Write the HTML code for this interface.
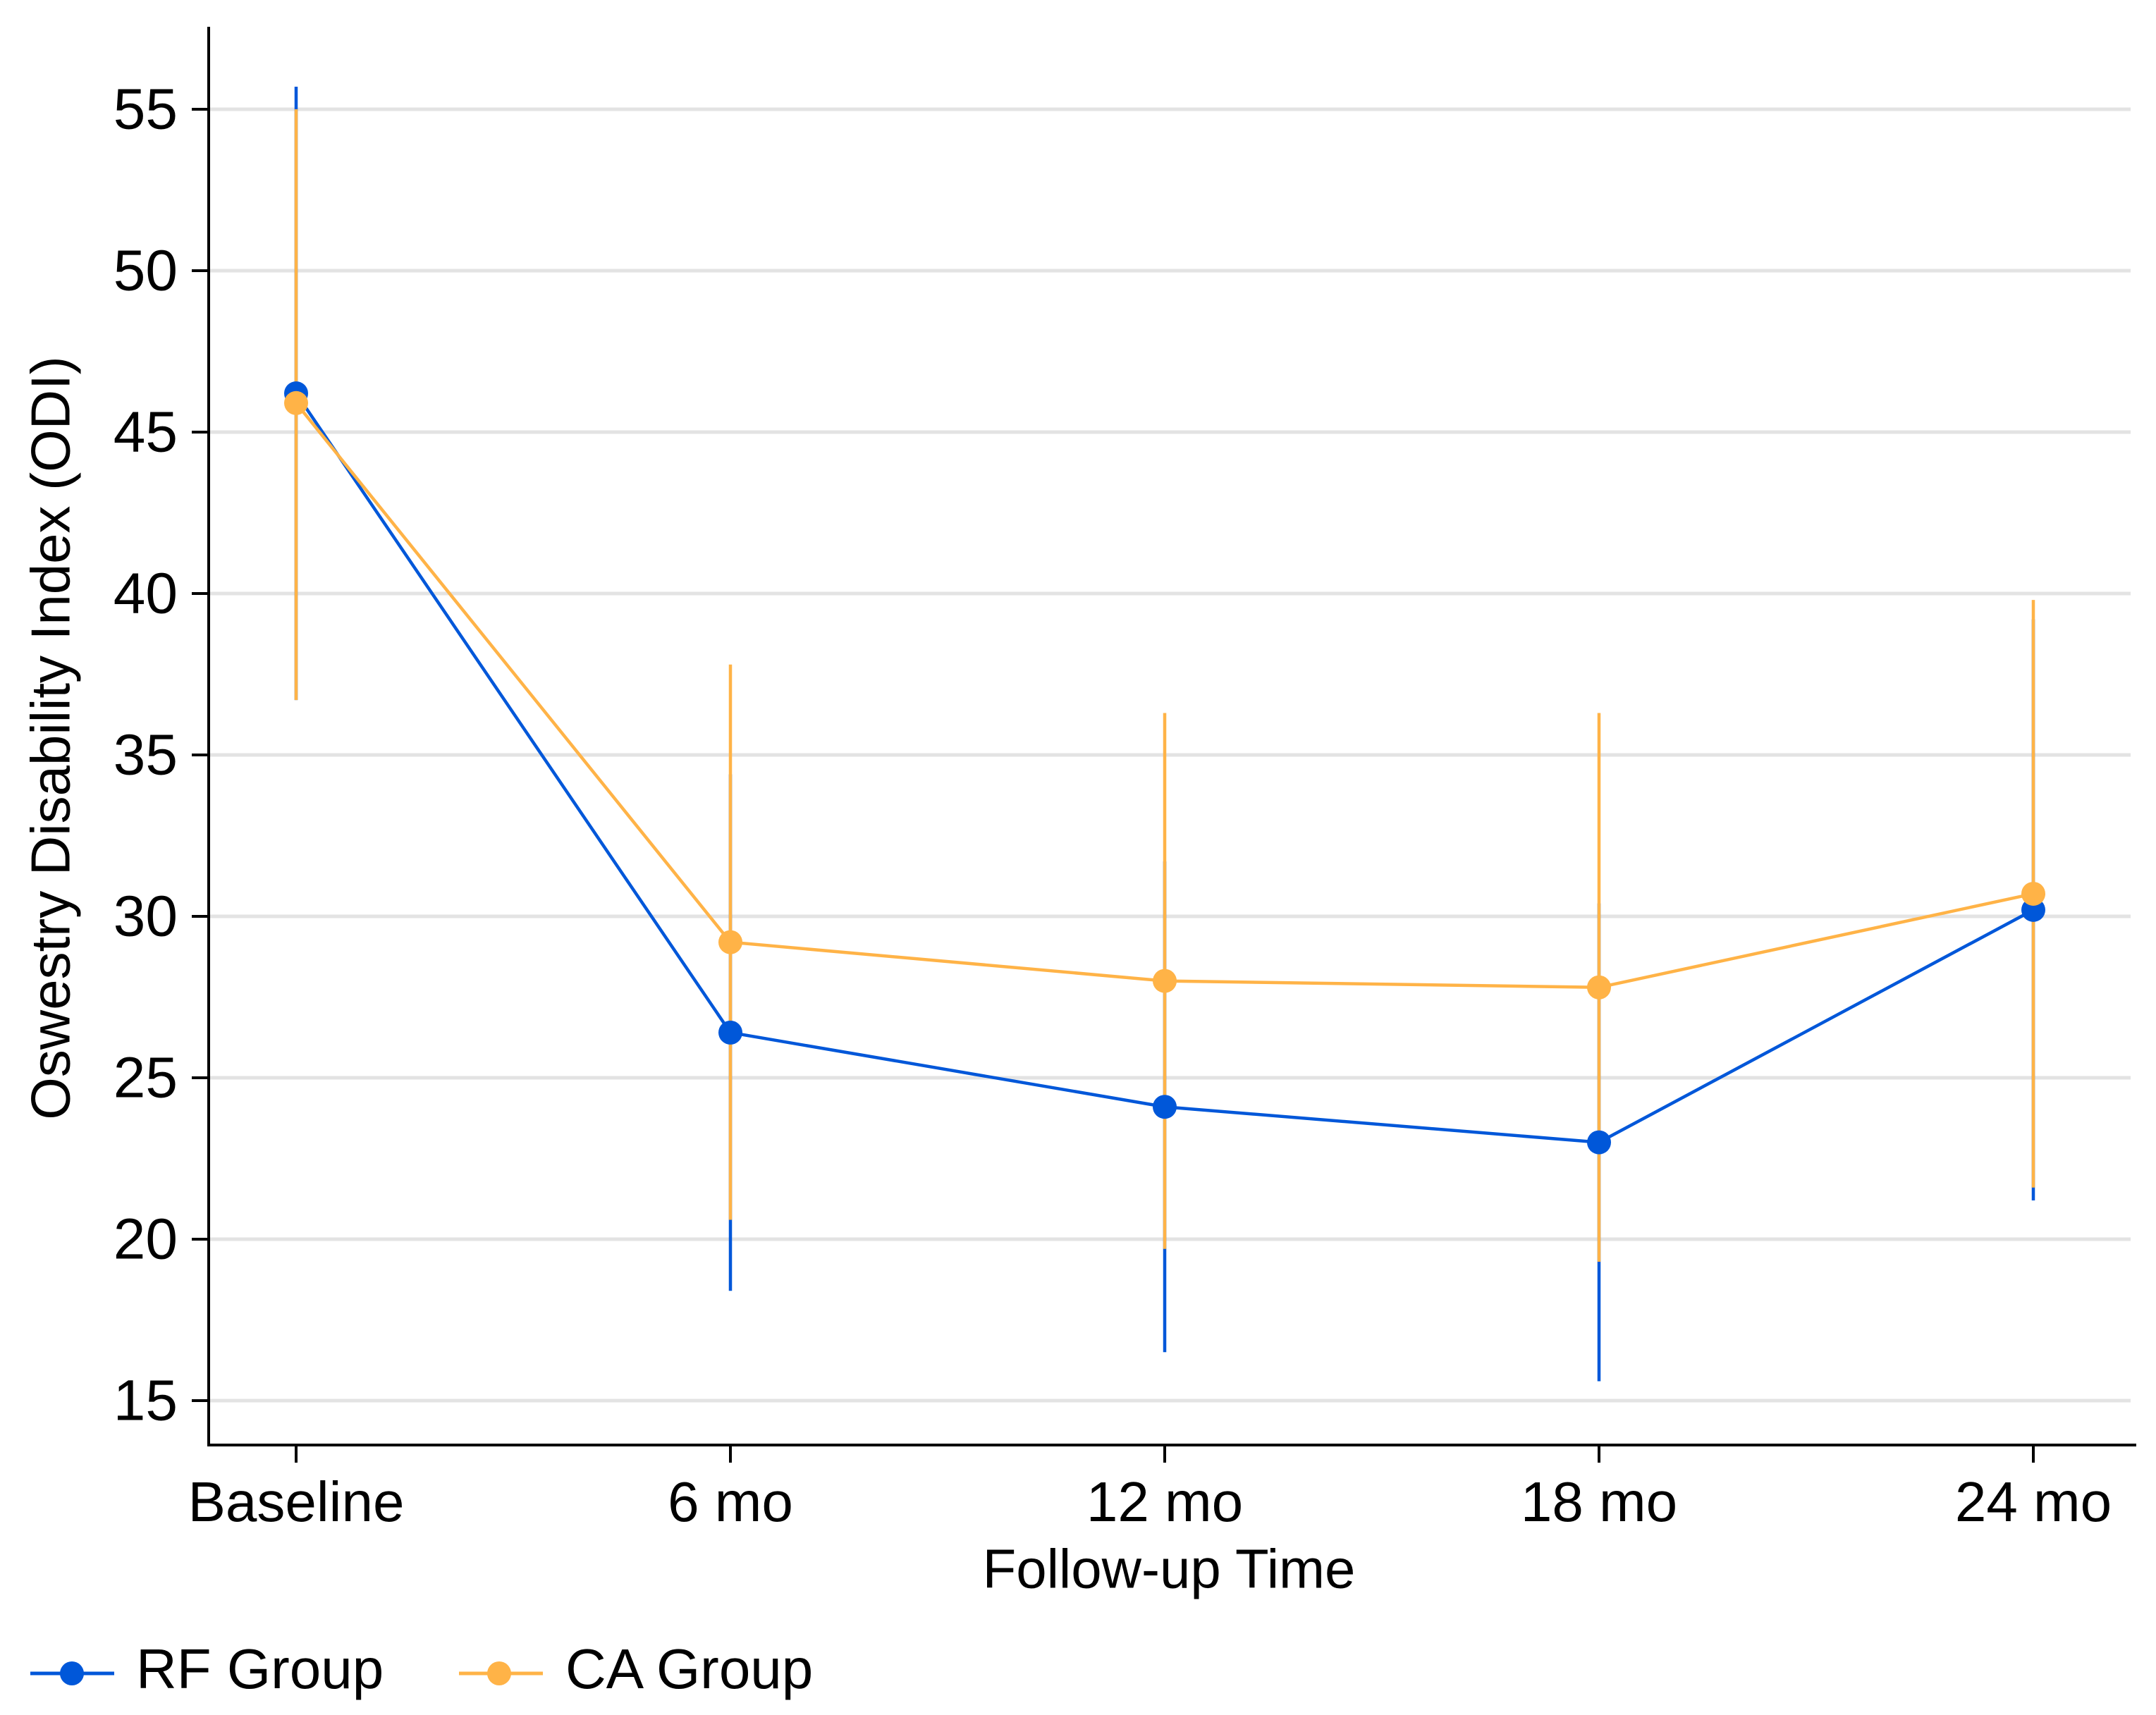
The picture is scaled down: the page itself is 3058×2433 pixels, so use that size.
<!DOCTYPE html>
<html><head><meta charset="utf-8"><style>
html,body{margin:0;padding:0;background:#fff;}
svg{display:block;font-family:"Liberation Sans",sans-serif;}
</style></head><body>
<svg id="chart" width="3058" height="2433" viewBox="0 0 3058 2433" xmlns="http://www.w3.org/2000/svg">
<g id="grid"></g>
<g id="yaxis"></g>
<g id="xaxis"></g>
<g id="errs"></g>
<g id="series"></g>
<text x="78" y="1047" font-size="78" text-anchor="middle" dominant-baseline="middle" transform="rotate(-90 78 1047)">Oswestry Disability Index (ODI)</text>
<text x="1658" y="2232" font-size="78" text-anchor="middle" dominant-baseline="middle">Follow-up Time</text>
<g>
 <g>
  <line x1="43" y1="2374" x2="162" y2="2374" stroke="#0057d9" stroke-width="5"/>
  <circle cx="102" cy="2374" r="17" fill="#0057d9"/>
  <text x="193" y="2374" font-size="80" dominant-baseline="middle">RF Group</text>
 </g>
 <g>
  <line x1="651" y1="2374" x2="770" y2="2374" stroke="#ffb347" stroke-width="5"/>
  <circle cx="708" cy="2374" r="17" fill="#ffb347"/>
  <text x="802" y="2374" font-size="80" dominant-baseline="middle">CA Group</text>
 </g>
</g>
</svg>
<script>
const categories = ["Baseline","6 mo","12 mo","18 mo","24 mo"];
const yTicks = [15,20,25,30,35,40,45,50,55];
const rfMean = [46.2,26.4,24.1,23.0,30.2];
const rfLow  = [36.7,18.4,16.5,15.6,21.2];
const rfHigh = [55.7,34.4,31.7,30.4,39.2];
const caMean = [45.9,29.2,28.0,27.8,30.7];
const caLow  = [36.7,20.6,19.7,19.3,21.6];
const caHigh = [55.0,37.8,36.3,36.3,39.8];

const NS="http://www.w3.org/2000/svg";
function y(v){return 155+(55-v)*(1987-155)/40;}
function x(i){return 420+i*616;}
function mk(tag,attrs,parent){const e=document.createElementNS(NS,tag);for(const k in attrs)e.setAttribute(k,attrs[k]);parent.appendChild(e);return e;}
const grid=document.getElementById('grid'),ya=document.getElementById('yaxis'),xa=document.getElementById('xaxis'),errs=document.getElementById('errs'),ser=document.getElementById('series');

yTicks.forEach(t=>{
 const g=mk('line',{x1:298,x2:3022,y1:y(t),y2:y(t),stroke:'#e3e3e3','stroke-width':5},grid);
 
 
 mk('line',{x1:272,x2:297,y1:y(t),y2:y(t),stroke:'#000','stroke-width':4},ya);
 const tx=mk('text',{x:252,y:y(t),'font-size':82,'text-anchor':'end','dominant-baseline':'central'},ya);
 tx.textContent=t;
 
 
});
mk('line',{x1:296,x2:296,y1:38,y2:2052,stroke:'#000','stroke-width':4},ya);
mk('line',{x1:294,x2:3030,y1:2050,y2:2050,stroke:'#000','stroke-width':4},xa);
categories.forEach((c,i)=>{
 mk('line',{x1:x(i),x2:x(i),y1:2050,y2:2075,stroke:'#000','stroke-width':4},xa);
 const tx=mk('text',{x:x(i),y:2137,'font-size':80,'text-anchor':'middle','dominant-baseline':'middle'},xa);
 tx.textContent=c;
 
 
});

function errors(lo,hi,col,name){
 lo.forEach((l,i)=>{
  const e=mk('line',{x1:x(i),x2:x(i),y1:y(l),y2:y(hi[i]),stroke:col,'stroke-width':4.5},errs);
  
  
 });
}
errors(rfLow,rfHigh,'#0057d9','rf');
errors(caLow,caHigh,'#ffb347','ca');

function series(m,col,name){
 const p=mk('polyline',{points:m.map((v,i)=>x(i)+','+y(v)).join(' '),fill:'none',stroke:col,'stroke-width':4.5},ser);
 
 
 m.forEach((v,i)=>{
  const c=mk('circle',{cx:x(i),cy:y(v),r:17,fill:col},ser);
  
  
 });
}
series(rfMean,'#0057d9','rf');
series(caMean,'#ffb347','ca');
</script>
</body></html>
